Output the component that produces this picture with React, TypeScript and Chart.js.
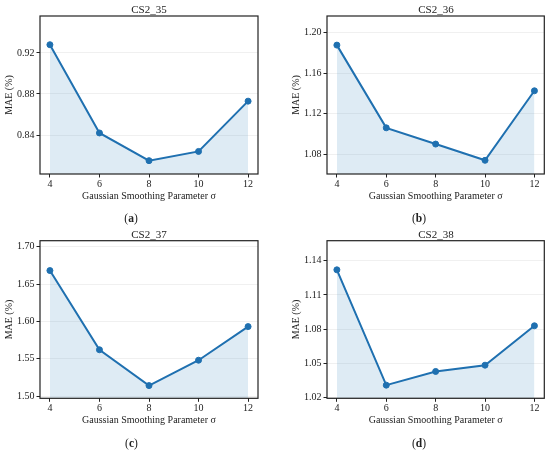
import React, { useEffect, useRef } from "react";
import { Chart, registerables } from "chart.js";

Chart.register(...registerables);

const sigmaValues = [4, 6, 8, 10, 12];
const xTickValues = [4, 6, 8, 10, 12];

const mae35 = [0.928, 0.842, 0.815, 0.824, 0.873];
const mae36 = [1.1875, 1.106, 1.09, 1.074, 1.1425];
const mae37 = [1.668, 1.562, 1.514, 1.548, 1.593];
const mae38 = [1.132, 1.031, 1.043, 1.0485, 1.083];

const ticks35 = [0.84, 0.88, 0.92];
const ticks36 = [1.08, 1.12, 1.16, 1.2];
const ticks37 = [1.5, 1.55, 1.6, 1.65, 1.7];
const ticks38 = [1.02, 1.05, 1.08, 1.11, 1.14];

const lim35 = [0.802, 0.956];
const lim36 = [1.0605, 1.2162];
const lim37 = [1.497, 1.708];
const lim38 = [1.0195, 1.1575];

const xLimits = [3.6, 12.4];

const titles = ["CS2_35", "CS2_36", "CS2_37", "CS2_38"];
const captions = ["a", "b", "c", "d"];
const xAxisTitle = "Gaussian Smoothing Parameter σ";
const yAxisTitle = "MAE (%)";

const FONT = "'Liberation Serif', 'DejaVu Serif', 'Times New Roman', serif";
const LINE = "#1f70b0";
const FILL = "rgba(31,119,180,0.15)";
const DARK = "#222";

const framePlugin = {
  id: "frame",
  afterDraw(chart: any) {
    const { ctx, chartArea } = chart;
    ctx.save();
    ctx.strokeStyle = DARK;
    ctx.lineWidth = 1.2;
    ctx.strokeRect(chartArea.left, chartArea.top, chartArea.right - chartArea.left, chartArea.bottom - chartArea.top);
    ctx.restore();
  },
};

type PanelProps = {
  values: number[];
  ticks: number[];
  lim: number[];
  left: boolean;
  top: boolean;
  height: number;
};

function Panel({ values, ticks, lim, left, top, height }: PanelProps) {
  const ref = useRef<HTMLCanvasElement | null>(null);
  useEffect(() => {
    if (!ref.current) return;
    const padTop = top ? 16 : 14.7;
    const plotH = top ? 158 : 157.6;
    const padBottom = height - padTop - plotH - 28;
    const chart = new Chart(ref.current, {
      type: "line",
      data: {
        datasets: [
          {
            data: sigmaValues.map((s, i) => ({ x: s, y: values[i] })),
            borderColor: LINE,
            backgroundColor: FILL,
            borderWidth: 2,
            pointRadius: 3,
            pointBackgroundColor: LINE,
            pointBorderColor: LINE,
            pointBorderWidth: 1,
            fill: "start",
            tension: 0,
          },
        ],
      },
      options: {
        animation: false,
        responsive: false,
        devicePixelRatio: 1,
        layout: {
          padding: { left: left ? 0 : 12, right: left ? 17 : 5.7, top: padTop, bottom: padBottom },
        },
        plugins: {
          legend: { display: false },
          tooltip: { enabled: false },
          title: { display: false },
        },
        scales: {
          x: {
            type: "linear",
            min: xLimits[0],
            max: xLimits[1],
            afterBuildTicks: (scale: any) => {
              scale.ticks = xTickValues.map((v) => ({ value: v }));
            },
            afterFit: (scale: any) => {
              scale.height = 28;
            },
            grid: {
              display: true,
              color: "rgba(0,0,0,0)",
              tickColor: DARK,
              tickLength: 3.5,
              drawOnChartArea: false,
            },
            border: { display: false },
            ticks: {
              color: DARK,
              padding: 1,
              font: { family: FONT, size: 10 },
              callback: (v: any) => String(v),
            },
            title: {
              display: true,
              text: xAxisTitle,
              color: DARK,
              font: { family: FONT, size: 10 },
              padding: { top: 0, bottom: 0 },
            },
          },
          y: {
            type: "linear",
            min: lim[0],
            max: lim[1],
            afterBuildTicks: (scale: any) => {
              scale.ticks = ticks.map((v) => ({ value: v }));
            },
            afterFit: (scale: any) => {
              scale.width = 40;
            },
            grid: {
              display: true,
              color: "rgba(0,0,0,0.06)",
              tickColor: DARK,
              tickLength: 3.5,
            },
            border: { display: false },
            ticks: {
              color: DARK,
              padding: 2,
              font: { family: FONT, size: 10 },
              callback: (v: any) => Number(v).toFixed(2),
            },
            title: {
              display: true,
              text: yAxisTitle,
              color: DARK,
              font: { family: FONT, size: 10 },
              padding: { top: 3, bottom: 0 },
            },
          },
        },
      },
      plugins: [framePlugin],
    } as any);
    return () => chart.destroy();
  }, [values, ticks, lim, left, top, height]);
  return <canvas ref={ref} width={275} height={height} style={{ display: "block", width: 275, height }} />;
}

export default function App() {
  useEffect(() => {
    document.body.style.margin = "0";
  }, []);
  const panels = [
    { values: mae35, ticks: ticks35, lim: lim35, x: 0, y: 0, left: true, top: true, h: 226, cx: 131, cy: 218, tx: 149, ty: 9 },
    { values: mae36, ticks: ticks36, lim: lim36, x: 275, y: 0, left: false, top: true, h: 226, cx: 419, cy: 218, tx: 436, ty: 9 },
    { values: mae37, ticks: ticks37, lim: lim37, x: 0, y: 226, left: true, top: false, h: 227, cx: 131.5, cy: 443, tx: 149, ty: 233.7 },
    { values: mae38, ticks: ticks38, lim: lim38, x: 275, y: 226, left: false, top: false, h: 227, cx: 419, cy: 443, tx: 436, ty: 233.7 },
  ];
  return (
    <div style={{ position: "relative", width: 550, height: 453, background: "#fff", fontFamily: FONT }}>
      {panels.map((p, i) => (
        <div key={i} style={{ position: "absolute", left: p.x, top: p.y, width: 275, height: p.h }}>
          <Panel values={p.values} ticks={p.ticks} lim={p.lim} left={p.left} top={p.top} height={p.h} />
        </div>
      ))}
      {panels.map((p, i) => (
        <div
          key={"t" + i}
          style={{
            position: "absolute",
            left: p.tx - 40,
            top: p.ty - 7,
            width: 80,
            height: 14,
            lineHeight: "14px",
            textAlign: "center",
            fontSize: 11,
            color: DARK,
          }}
        >
          {titles[i]}
        </div>
      ))}
      {panels.map((p, i) => (
        <div
          key={"c" + i}
          style={{
            position: "absolute",
            left: p.cx - 20,
            top: p.cy - 7,
            width: 40,
            height: 14,
            lineHeight: "14px",
            textAlign: "center",
            fontSize: 11.5,
            color: DARK,
          }}
        >
          (<b>{captions[i]}</b>)
        </div>
      ))}
    </div>
  );
}
